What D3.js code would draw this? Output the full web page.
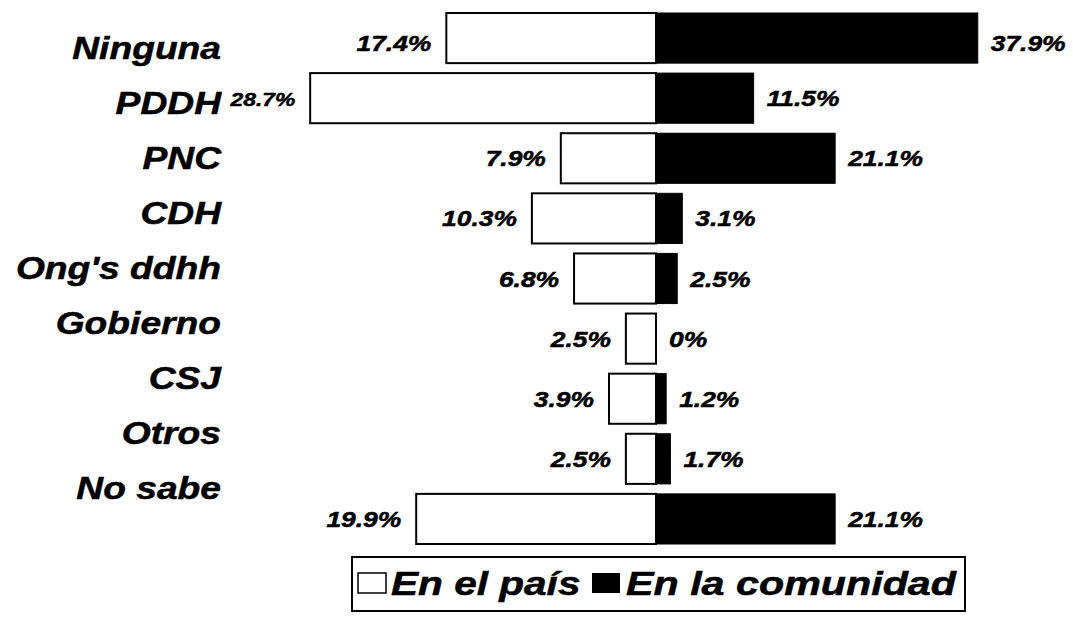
<!DOCTYPE html>
<html>
<head>
<meta charset="utf-8">
<script src="https://cdn.jsdelivr.net/npm/d3@7"></script>
<style>
  body { margin: 0; background: #fff; }
  text { font-family: "Liberation Sans", Arial, sans-serif; font-weight: bold; font-style: italic; fill: #000; stroke: #000; stroke-width: 0.5; }
</style>
</head>
<body>
<div id="chart"></div>
<script>
const categories = ["Ninguna", "PDDH", "PNC", "CDH", "Ong's ddhh", "Gobierno", "CSJ", "Otros", "No sabe"];
const enElPais = [17.4, 28.7, 7.9, 10.3, 6.8, 2.5, 3.9, 2.5, 19.9];
const enLaComunidad = [37.9, 11.5, 21.1, 3.1, 2.5, 0, 1.2, 1.7, 21.1];
const seriesNames = ["En el país", "En la comunidad"];

const width = 1073, height = 618;
const cx = 656;
const sx = 1.2; // the scanned text is stretched horizontally

const svg = d3.select("#chart").append("svg")
    .attr("width", width)
    .attr("height", height);

const rows = categories.map((c, i) => ({cat: c, pais: enElPais[i], com: enLaComunidad[i]}));

// the two halves were drawn at different scales in the original
const xPais = d3.scaleLinear().domain([0, 30]).range([cx, cx - 30 * 12.05]);
const xCom = d3.scaleLinear().domain([0, 40]).range([cx, cx + 40 * 8.49]);

const y = d3.scaleBand()
    .domain(categories)
    .range([8, 549])
    .paddingInner(0.166)
    .paddingOuter(0.083);

const yLabel = d3.scalePoint()
    .domain(categories)
    .range([48, 488]);

function stretchedText(g, x, yy, txt, size, anchor, s = sx) {
    g.append("text")
        .attr("transform", `translate(${x},${yy}) scale(${s},1)`)
        .attr("text-anchor", anchor)
        .attr("font-size", size)
        .text(txt);
}

// bars
svg.append("g")
    .selectAll("rect")
    .data(rows)
    .join("rect")
    .attr("x", d => xPais(d.pais))
    .attr("y", d => y(d.cat))
    .attr("width", d => xPais(0) - xPais(d.pais))
    .attr("height", y.bandwidth())
    .attr("fill", "#fff")
    .attr("stroke", "#000")
    .attr("stroke-width", 2);

svg.append("g")
    .selectAll("rect")
    .data(rows.filter(d => d.com > 0))
    .join("rect")
    .attr("x", xCom(0))
    .attr("y", d => y(d.cat))
    .attr("width", d => xCom(d.com) - xCom(0))
    .attr("height", y.bandwidth())
    .attr("fill", "#000")
    .attr("stroke", "#000")
    .attr("stroke-width", 1);

// category labels
const labG = svg.append("g");
rows.forEach(d => stretchedText(labG, 221, yLabel(d.cat) + 11, d.cat, 31, "end"));

// value labels
const valG = svg.append("g");
rows.forEach((d, i) => {
    const yc = y(d.cat) + y.bandwidth() / 2 + 8 + (i === 0 ? 5 : 0);
    const small = d.cat === "PDDH";
    stretchedText(valG, xPais(d.pais) - 15, yc, d.pais + "%", small ? 19 : 22, "end");
    stretchedText(valG, xCom(d.com) + 13, yc, d.com + "%", 22, "start");
});

// legend
const leg = svg.append("g");
leg.append("rect")
    .attr("x", 352).attr("y", 557)
    .attr("width", 613).attr("height", 54)
    .attr("fill", "#fff")
    .attr("stroke", "#000")
    .attr("stroke-width", 2);
leg.append("rect")
    .attr("x", 358).attr("y", 573)
    .attr("width", 28).attr("height", 20)
    .attr("fill", "#fff")
    .attr("stroke", "#000")
    .attr("stroke-width", 1.5);
stretchedText(leg, 391, 595, seriesNames[0], 33, "start", 1.23);
leg.append("rect")
    .attr("x", 592).attr("y", 573)
    .attr("width", 28).attr("height", 20)
    .attr("fill", "#000");
stretchedText(leg, 626, 595, seriesNames[1], 33, "start", 1.25);
</script>
</body>
</html>
